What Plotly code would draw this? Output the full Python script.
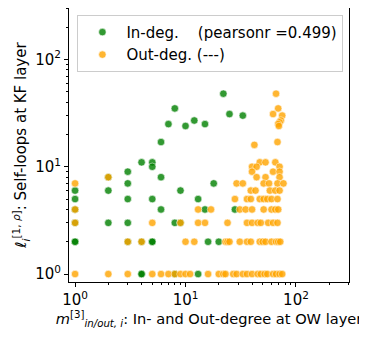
import plotly.graph_objects as go

# In-degree (green) points: (degree at OW layer, self-loops at KF layer)
in_deg_x = [22, 8, 25, 33, 7, 10, 12, 15, 6, 4, 5, 5, 3, 6, 2,
            1, 2, 3, 1, 3, 5, 6, 9, 13, 18, 15, 28, 1,
            2, 3, 8, 1, 9, 1, 1, 3, 4, 5, 5, 16, 20, 4, 4, 8, 13]
in_deg_y = [48, 35, 31, 30, 25, 24, 27, 25, 17, 11, 11, 10, 9, 8, 8,
            6, 6, 7, 5, 5, 5, 4, 6, 5, 7, 4, 4, 4,
            3, 3, 3, 3, 3, 2, 2, 2, 2, 2, 2, 2, 2, 1, 1, 1, 1]

# Out-degree (orange) points
out_deg_x = [66, 69, 62, 75, 73, 71, 69, 70, 42, 68,
             47, 53, 65, 40, 44, 71, 40, 62, 71, 44, 53, 71, 2,
             1, 29, 33, 51, 57, 68, 77,
             39, 43, 58, 65, 71,
             28, 36, 39, 47, 51, 55, 60, 68,
             1, 13, 17, 31, 35, 40, 51, 60, 65, 69,
             1, 9, 5, 13, 15, 24, 36, 40, 45, 48, 56, 62, 68,
             3, 4, 10, 12, 23, 24, 25, 31, 36, 39, 47, 50, 53, 60, 66, 69, 72,
             1, 2, 3, 5, 6, 7, 8, 9, 10, 11, 16, 20, 22, 23, 27, 29, 33, 36,
             40, 45, 48, 52, 55, 62, 66, 71, 75]
out_deg_y = [48, 35, 31, 30, 27, 26, 25, 24, 16, 17,
             11, 11, 11, 10, 10, 10, 9, 9, 9, 8, 8, 8, 8,
             7, 7, 7, 7, 7, 7, 7,
             6, 6, 6, 6, 6,
             5, 5, 5, 5, 5, 5, 5, 5,
             4, 4, 4, 4, 4, 4, 4, 4, 4, 4,
             3, 3, 3, 3, 3, 3, 3, 3, 3, 3, 3, 3, 3,
             2, 2, 2, 2, 2, 2, 2, 2, 2, 2, 2, 2, 2, 2, 2, 2, 2,
             1, 1, 1, 1, 1, 1, 1, 1, 1, 1, 1, 1, 1, 1, 1, 1, 1, 1,
             1, 1, 1, 1, 1, 1, 1, 1, 1]

in_label = "In-deg.\u00a0\u00a0\u00a0\u00a0(pearsonr =0.499)"
out_label = "Out-deg. (---)"

major = [1, 10, 100]
major_text = ["10<sup>0</sup>", "10<sup>1</sup>", "10<sup>2</sup>"]
minor = [m * d for d in (1, 10, 100) for m in range(2, 10) if m * d <= 300]

fig = go.Figure()
fig.add_trace(go.Scatter(x=in_deg_x, y=in_deg_y, mode="markers", name=in_label,
                         marker=dict(color="#008000", size=7.5, opacity=0.8,
                                     line=dict(color="white", width=0.6))))
fig.add_trace(go.Scatter(x=out_deg_x, y=out_deg_y, mode="markers", name=out_label,
                         marker=dict(color="#FFA500", size=7.5, opacity=0.8,
                                     line=dict(color="white", width=0.6))))

axis_style = dict(type="log", showgrid=False, zeroline=False, automargin=False,
                  showline=True, linecolor="black", linewidth=1, mirror=True,
                  ticks="outside", ticklen=4, tickcolor="black",
                  tickvals=major, ticktext=major_text,
                  tickfont=dict(size=15, color="black"),
                  minor=dict(tickvals=minor, ticks="outside", ticklen=2,
                             tickcolor="black"))

fig.update_xaxes(range=[-0.055, 2.48],
                 title=dict(text="<i>m</i><sup>[3]</sup><sub><i>in/out, i</i></sub>: "
                                 "In- and Out-degree at OW layer",
                            font=dict(size=14.6, color="black"), standoff=4),
                 **axis_style)
fig.update_yaxes(range=[-0.074, 2.48],
                 title=dict(text="<i>\u2113</i><sub><i>i</i></sub><sup>[1, <i>\u03c1</i>]</sup>: "
                                 "Self-loops at KF layer",
                            font=dict(size=15, color="black"), standoff=4),
                 **axis_style)

# the page body adds an 8px offset, so the figure is a bit smaller than the window
fig.update_layout(
    width=359, height=333,
    margin=dict(l=61, r=18, t=0, b=59),
    plot_bgcolor="white", paper_bgcolor="white",
    font=dict(family="DejaVu Sans", color="black"),
    legend=dict(x=0.03, y=0.975, xanchor="left", yanchor="top",
                bgcolor="rgba(255,255,255,0.8)", bordercolor="#cccccc",
                borderwidth=1, font=dict(size=15), itemwidth=38,
                tracegroupgap=0),
)

fig.write_html("out.html")
